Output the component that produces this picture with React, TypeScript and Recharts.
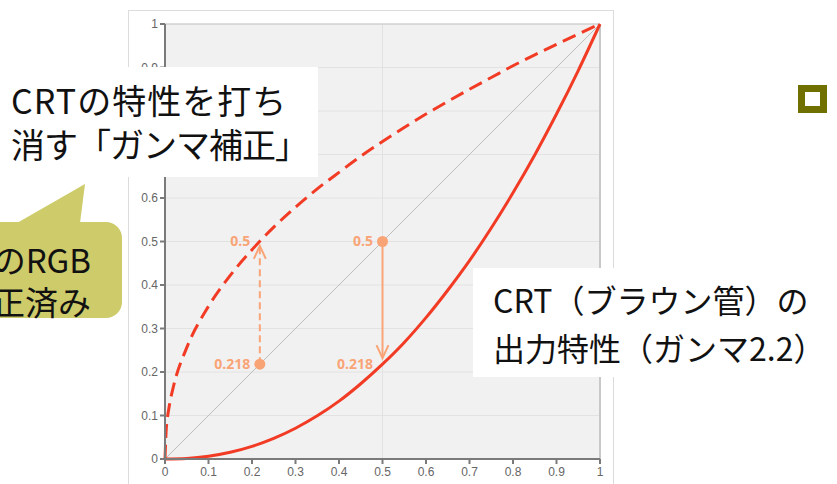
import React from "react";
import {
  LineChart,
  Line,
  XAxis,
  YAxis,
  CartesianGrid,
  ReferenceLine,
  ReferenceDot,
} from "recharts";

// axis ticks
const xTicks = [0, 0.1, 0.2, 0.3, 0.4, 0.5, 0.6, 0.7, 0.8, 0.9, 1];
const yTicks = [0, 0.1, 0.2, 0.3, 0.4, 0.5, 0.6, 0.7, 0.8, 0.9, 1];

// CRT output curve (solid)
const crtX = [0, 0.05, 0.1, 0.15, 0.2, 0.25, 0.3, 0.35, 0.4, 0.45, 0.5, 0.55, 0.6, 0.65, 0.7, 0.75, 0.8, 0.85, 0.9, 0.95, 1];
const crtY = [0, 0.0014, 0.0063, 0.0154, 0.029, 0.0474, 0.0707, 0.0992, 0.133, 0.173, 0.218, 0.268, 0.325, 0.388, 0.456, 0.531, 0.612, 0.699, 0.793, 0.893, 1];

// gamma correction curve (dashed)
const corrX = [0, 0.003, 0.005, 0.01, 0.02, 0.05, 0.1, 0.15, 0.2, 0.25, 0.3, 0.35, 0.4, 0.45, 0.5, 0.55, 0.6, 0.65, 0.7, 0.75, 0.8, 0.85, 0.9, 0.95, 1];
const corrY = [0, 0.071, 0.09, 0.123, 0.169, 0.256, 0.351, 0.422, 0.481, 0.533, 0.579, 0.621, 0.659, 0.696, 0.73, 0.762, 0.793, 0.822, 0.85, 0.877, 0.904, 0.929, 0.953, 0.977, 1];

const diagX = [0, 1];
const diagY = [0, 1];

// annotation arrows
const upArrowX = [0.218, 0.218];
const upArrowY = [0.218, 0.49];
const downArrowX = [0.5, 0.5];
const downArrowY = [0.5, 0.232];

const zip = (xs: number[], ys: number[]) => xs.map((x, i) => ({ x, y: ys[i] }));

const RED = "#f23b24";
const ORANGE = "#f9a476";

const arrowHead = (dir: "up" | "down") => (props: any) => {
  const { cx, cy, index } = props;
  if (index !== 1) return <g key={`a-${index}`} />;
  const d = dir === "up" ? 13 : -13;
  return (
    <polyline
      key={`a-${index}`}
      points={`${cx - 6},${cy + d} ${cx},${cy} ${cx + 6},${cy + d}`}
      fill="none"
      stroke={ORANGE}
      strokeWidth={2}
    />
  );
};

const labelStyle = {
  fill: ORANGE,
  fontSize: 14,
  fontWeight: 700,
  fontFamily: "Open Sans, sans-serif",
};

const tickStyle = {
  fill: "#666",
  fontSize: 12,
  fontFamily: "Liberation Sans, Arial, sans-serif",
};

const jp = "'Noto Sans CJK JP', 'Noto Sans', sans-serif";

export default function App() {
  return (
    <div
      style={{
        position: "absolute",
        left: 0,
        top: 0,
        width: 837,
        height: 484,
        overflow: "hidden",
        background: "#fff",
      }}
    >
      <div
        style={{
          position: "absolute",
          left: 128,
          top: 10,
          width: 484,
          height: 520,
          border: "1px solid #dcdcdc",
        }}
      />
      <div style={{ position: "absolute", left: 0, top: 0 }}>
        <LineChart width={837} height={484} margin={{ top: 24, right: 237, bottom: 0, left: 120 }}>
          <CartesianGrid fill="#f1f1f1" stroke="#e2e2e2" vertical={false} />
          <XAxis
            type="number"
            dataKey="x"
            domain={[0, 1]}
            ticks={xTicks}
            height={25}
            tickSize={5}
            tickMargin={3}
            stroke="#7a7a7a"
            strokeWidth={2}
            tick={tickStyle}
          />
          <YAxis
            type="number"
            dataKey="y"
            domain={[0, 1]}
            ticks={yTicks}
            width={45}
            tickSize={5}
            tickMargin={2}
            stroke="#7a7a7a"
            strokeWidth={2}
            tick={tickStyle}
          />
          <ReferenceLine x={0.5} stroke="#e2e2e2" />
          <ReferenceLine y={1} stroke="#c8c8c8" />
          <ReferenceLine x={1} stroke="#c8c8c8" strokeWidth={2} />
          <Line
            data={zip(diagX, diagY)}
            dataKey="y"
            stroke="#bdbdbd"
            strokeWidth={1}
            dot={false}
            isAnimationActive={false}
          />
          <Line
            data={zip(crtX, crtY)}
            dataKey="y"
            type="monotone"
            stroke={RED}
            strokeWidth={3}
            dot={false}
            isAnimationActive={false}
          />
          <Line
            data={zip(corrX, corrY)}
            dataKey="y"
            type="monotone"
            stroke={RED}
            strokeWidth={3}
            strokeDasharray="14 7"
            dot={false}
            isAnimationActive={false}
          />
          <Line
            data={zip(upArrowX, upArrowY)}
            dataKey="y"
            stroke={ORANGE}
            strokeWidth={2}
            strokeDasharray="7 4"
            dot={arrowHead("up")}
            isAnimationActive={false}
          />
          <Line
            data={zip(downArrowX, downArrowY)}
            dataKey="y"
            stroke={ORANGE}
            strokeWidth={2}
            dot={arrowHead("down")}
            isAnimationActive={false}
          />
          <ReferenceDot
            x={0.218}
            y={0.218}
            r={5.5}
            fill={ORANGE}
            stroke="none"
            label={{ value: "0.218", position: "left", offset: 4, style: labelStyle }}
          />
          <ReferenceDot
            x={0.218}
            y={0.5}
            r={5.5}
            fill="none"
            stroke="none"
            label={{ value: "0.5", position: "left", offset: 4, style: labelStyle }}
          />
          <ReferenceDot
            x={0.5}
            y={0.5}
            r={5.5}
            fill={ORANGE}
            stroke="none"
            label={{ value: "0.5", position: "left", offset: 4, style: labelStyle }}
          />
          <ReferenceDot
            x={0.5}
            y={0.218}
            r={5.5}
            fill="none"
            stroke="none"
            label={{ value: "0.218", position: "left", offset: 4, style: labelStyle }}
          />
        </LineChart>
      </div>

      {/* callout: gamma correction */}
      <div
        style={{
          position: "absolute",
          left: 0,
          top: 67,
          width: 318,
          height: 110,
          background: "#fff",
          fontFamily: jp,
          fontSize: 34,
          lineHeight: "44px",
          color: "#111",
          paddingLeft: 11,
          paddingTop: 11,
          boxSizing: "border-box",
          whiteSpace: "nowrap",
        }}
      >
        <div style={{ letterSpacing: 1 }}>CRTの特性を打ち</div>
        <div style={{ letterSpacing: -1 }}>消す「ガンマ補正」</div>
      </div>

      {/* olive speech bubble */}
      <svg style={{ position: "absolute", left: 0, top: 0 }} width={140} height={330}>
        <polygon points="17,223 85,184 80,223" fill="#cdcb6a" />
        <rect x={-30} y={222} width={152} height={96} rx={16} fill="#cdcb6a" />
      </svg>
      <div
        style={{
          position: "absolute",
          right: 837 - 91,
          top: 238,
          fontFamily: jp,
          fontSize: 33,
          lineHeight: "42px",
          color: "#111",
          textAlign: "right",
          whiteSpace: "nowrap",
        }}
      >
        <div>のRGB</div>
        <div>正済み</div>
      </div>

      {/* callout: CRT output */}
      <div
        style={{
          position: "absolute",
          left: 473,
          top: 268,
          width: 364,
          height: 109,
          background: "#fff",
          fontFamily: jp,
          fontSize: 32,
          lineHeight: "48px",
          color: "#111",
          paddingLeft: 20,
          paddingTop: 7,
          boxSizing: "border-box",
          whiteSpace: "nowrap",
        }}
      >
        <div>CRT（ブラウン管）の</div>
        <div>出力特性（ガンマ2.2）</div>
      </div>

      {/* bullet square */}
      <div
        style={{
          position: "absolute",
          left: 798,
          top: 85,
          width: 29,
          height: 28,
          border: "7px solid #707000",
          boxSizing: "border-box",
          background: "#fff",
        }}
      />
    </div>
  );
}
